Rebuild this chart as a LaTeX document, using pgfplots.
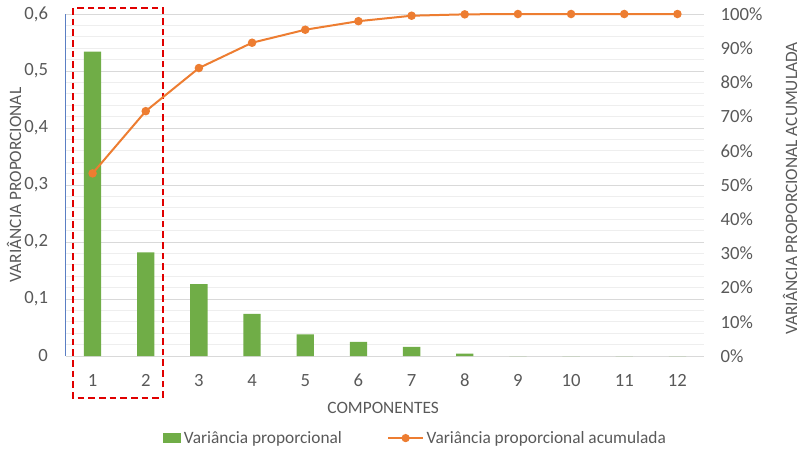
\documentclass[border=0pt]{standalone}
\usepackage{pgfplots}
\pgfplotsset{compat=1.18}
\usepackage{fontspec}
\setmainfont{Carlito}
\definecolor{cgreen}{HTML}{70AD47}
\definecolor{corange}{HTML}{ED7D31}
\definecolor{ctext}{HTML}{595959}
\definecolor{cmajor}{HTML}{D9D9D9}
\definecolor{cminor}{HTML}{EEEEEE}
\definecolor{cred}{HTML}{E00000}
\definecolor{cyaxis}{HTML}{5B7FC4}

% variancia proporcional por componente
\pgfplotstableread{
comp var
1  0.534
2  0.182
3  0.126
4  0.074
5  0.038
6  0.025
7  0.016
8  0.004
9  0.000
10 0.000
11 0.000
12 0.000
}\vartable

% acumulada
\pgfplotstableread{
comp acc
1  0.534
2  0.716
3  0.842
4  0.916
5  0.954
6  0.979
7  0.995
8  0.999
9  1.000
10 1.000
11 1.000
12 1.000
}\acctable

\begin{document}
\begin{tikzpicture}
\useasboundingbox (-49.5pt,-74.25pt) rectangle (550.5pt,267pt);
\begin{axis}[
    at={(0,0)}, anchor=south west,
    scale only axis, width=478.5pt, height=256.5pt,
    xmin=0.5, xmax=12.5, ymin=0, ymax=0.6,
    xtick={1,...,12},
    ytick={0,0.1,...,0.6},
    yticklabels={0,{0,1},{0,2},{0,3},{0,4},{0,5},{0,6}},
    /pgf/number format/assume math mode=true,
    minor y tick num=4,
    ymajorgrids, yminorgrids,
    major grid style={cmajor, line width=0.75pt},
    minor grid style={cminor, line width=0.75pt},
    axis x line*=bottom, axis y line*=left,
    x axis line style={cmajor, line width=0.75pt, -},
    y axis line style={cyaxis, line width=0.75pt, -},
    major tick length=0pt, minor tick length=0pt,
    tick label style={font=\fontsize{14}{16}\selectfont, text=ctext},
    yticklabel style={xshift=-10pt},
    xticklabel style={yshift=-10pt},
    xlabel={COMPONENTES},
    ylabel={VARIÂNCIA PROPORCIONAL},
    label style={font=\fontsize{13}{15}\selectfont, text=ctext},
    xlabel style={at={(axis description cs:0.497,-0.152)}, anchor=center},
    ylabel style={at={(axis description cs:-0.0815,0.5)}, anchor=center},
    clip=false,
    legend columns=2,
    legend style={draw=none, fill=none, at={(axis description cs:0.548,-0.24)}, anchor=center,
        font=\fontsize{13}{15}\selectfont, text=ctext,
        /tikz/every even column/.append style={column sep=32pt}},
]
\addplot[ybar, bar width=13pt, fill=cgreen, draw=none,
    legend image code/.code={\fill[cgreen] (0pt,-3.5pt) rectangle (14pt,4pt);}]
    table[x=comp, y=var] {\vartable};
\addlegendentry{Variância proporcional}
\addlegendimage{corange, line width=1.5pt, mark=*, mark size=2.3pt,
    legend image code/.code={\draw[corange, line width=1.5pt] (0pt,0pt) -- (26pt,0pt);
        \fill[corange] (13pt,0pt) circle (2.3pt);}}
\addlegendentry{Variância proporcional acumulada}
\draw[cred, dashed, line width=1.6pt, dash pattern=on 5pt off 3pt]
    (axis cs:0.632,0.6105) rectangle (axis cs:2.324,-0.0737);
\end{axis}
\begin{axis}[
    at={(0,0)}, anchor=south west,
    scale only axis, width=478.5pt, height=256.5pt,
    xmin=0.5, xmax=12.5, ymin=0, ymax=1,
    axis x line=none, axis y line*=right,
    y axis line style={draw=none},
    ytick={0,0.1,...,1},
    yticklabels={0\%,10\%,20\%,30\%,40\%,50\%,60\%,70\%,80\%,90\%,100\%},
    major tick length=0pt,
    tick label style={font=\fontsize{14}{16}\selectfont, text=ctext},
    yticklabel style={xshift=9pt},
    ylabel={VARIÂNCIA PROPORCIONAL ACUMULADA},
    label style={font=\fontsize{13}{15}\selectfont, text=ctext},
    ylabel style={at={(axis description cs:1.135,0.49)}, anchor=center, rotate=0},
    clip=false,
]
\addplot[corange, line width=1.5pt, mark=*, mark size=2.4pt]
    table[x=comp, y=acc] {\acctable};
\end{axis}
\end{tikzpicture}
\end{document}
